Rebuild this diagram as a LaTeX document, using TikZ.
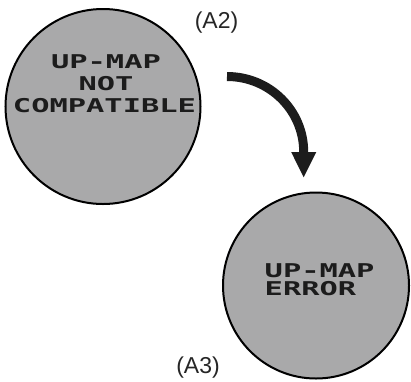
\documentclass[tikz,border=0pt]{standalone}
\usepackage{fontspec}
\usepackage{graphicx}
\usetikzlibrary{arrows.meta}
\setmainfont{Liberation Sans}
\newfontfamily\lcdfont{DejaVu Sans Mono}
\definecolor{dialgray}{RGB}{169,169,170}
\definecolor{inkdark}{RGB}{28,28,28}
\newcommand{\lcdtext}[1]{\scalebox{1.6}[1]{#1}}
\tikzset{
  dial/.style={circle, draw=black, line width=2pt, fill=dialgray, inner sep=0pt},
  lcd/.style={inner sep=0pt, text=inkdark, font=\lcdfont\bfseries\fontsize{19}{19}\selectfont},
  steplabel/.style={inner sep=0pt, text=black!85, font=\fontsize{23}{23}\selectfont},
  flow/.style={line width=9pt, draw=inkdark, line cap=butt,
    -{Triangle[length=26pt, width=23pt, fill=inkdark]}}
}
\begin{document}
\begin{tikzpicture}[x=1pt, y=-1pt]
  \useasboundingbox (0,0) rectangle (411,381);

  % upper dial
  \node[dial, minimum size=195pt] (dialA) at (103,106.5) {};
  \node[lcd] (a1) at (106,62) {\lcdtext{UP-MAP}};
  \node[lcd] (a2) at (106,84) {\lcdtext{NOT}};
  \node[lcd] (a3) at (104.5,106) {\lcdtext{COMPATIBLE}};
  \node[steplabel] (labA) at (216.5,23) {(A2)};

  % lower dial
  \node[dial, minimum size=186pt] (dialB) at (316,285.5) {};
  \node[lcd, anchor=west] (b1) at (264.5,270.5) {\lcdtext{UP-MAP}};
  \node[lcd, anchor=west] (b2) at (264.5,288.5) {\lcdtext{ERROR}};
  \node[steplabel] (labB) at (198,368) {(A3)};

  % transition arrow
  \coordinate (arrowstart) at (227,76.5);
  \coordinate (arrowend) at (303.7,178);
  \draw[flow] (arrowstart) .. controls (269.5,76.5) and (303.7,110.3) .. (303.7,152) -- (arrowend);
\end{tikzpicture}
\end{document}
